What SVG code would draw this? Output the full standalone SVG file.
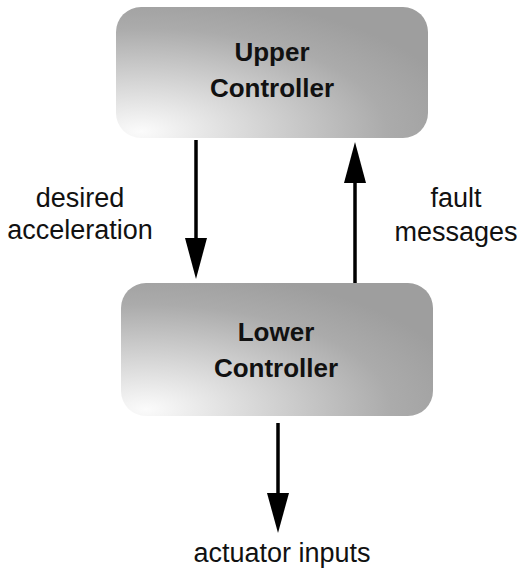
<svg xmlns="http://www.w3.org/2000/svg" width="517" height="568" viewBox="0 0 517 568">
  <defs>
    <radialGradient id="boxFill" cx="0.08" cy="0.95" r="1.05" fx="0.08" fy="0.95">
      <stop offset="0" stop-color="#fbfbfb"/>
      <stop offset="0.35" stop-color="#d6d6d6"/>
      <stop offset="0.75" stop-color="#ababab"/>
      <stop offset="1" stop-color="#9e9e9e"/>
    </radialGradient>
    <style>
      .box { fill: url(#boxFill); stroke: none; }
      .title { font-family: "Liberation Sans", Arial, sans-serif; font-weight: bold; font-size: 26px; fill: #111; text-anchor: middle; }
      .label { font-family: "Liberation Sans", Arial, sans-serif; font-size: 27px; fill: #111; text-anchor: middle; }
      .conn { stroke: #000; stroke-width: 3.5; fill: none; }
      .head { fill: #000; stroke: none; }
    </style>
  </defs>

  <g id="upper-controller">
    <rect class="box" x="116" y="7" width="312" height="131" rx="25" ry="25"/>
    <text class="title" x="272" y="61">Upper</text>
    <text class="title" x="272" y="97">Controller</text>
  </g>

  <g id="lower-controller">
    <rect class="box" x="121" y="283" width="312" height="133" rx="25" ry="25"/>
    <text class="title" x="276" y="341">Lower</text>
    <text class="title" x="276" y="377">Controller</text>
  </g>

  <g id="connectors">
    <g id="desired-acceleration">
      <line class="conn" x1="196" y1="140" x2="196" y2="245"/>
      <polygon class="head" points="185,238 207,238 196,279"/>
    </g>
    <g id="fault-messages">
      <line class="conn" x1="355" y1="283" x2="355" y2="176"/>
      <polygon class="head" points="344,183 366,183 355,142"/>
    </g>
    <g id="actuator-inputs">
      <line class="conn" x1="278" y1="423" x2="278" y2="500"/>
      <polygon class="head" points="267,493 289,493 278,533"/>
    </g>
  </g>

  <g id="labels">
    <text class="label" x="80" y="207">desired</text>
    <text class="label" x="80" y="239">acceleration</text>
    <text class="label" x="456" y="207">fault</text>
    <text class="label" x="456" y="241">messages</text>
    <text class="label" x="282" y="562">actuator inputs</text>
  </g>
</svg>
